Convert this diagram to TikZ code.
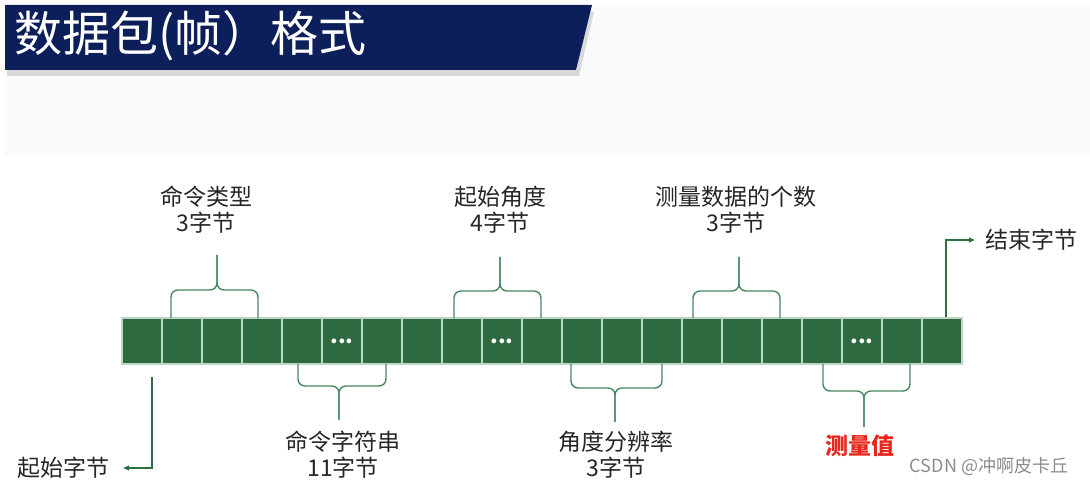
\documentclass[tikz,border=0pt]{standalone}
\usepackage{fontspec}
\setmainfont{Noto Sans CJK SC}
\usepackage{tikz}
\usetikzlibrary{arrows.meta,positioning,calc}
\definecolor{titlenavy}{RGB}{12,31,91}
\definecolor{cellgreen}{RGB}{46,106,64}
\definecolor{celledge}{RGB}{190,214,196}
\definecolor{bracegreen}{RGB}{72,136,96}
\definecolor{arrowgreen}{RGB}{46,112,66}
\definecolor{labelgrey}{RGB}{38,38,38}
\definecolor{measred}{RGB}{232,40,30}
\definecolor{panelgrey}{RGB}{249,250,252}

\begin{document}
\begin{tikzpicture}[
  x=1pt, y=1pt,
  lbl/.style={font=\fontsize{23}{26}\selectfont, text=labelgrey, align=center, inner sep=0pt},
  cell/.style={draw=celledge, line width=1.1pt, fill=cellgreen, minimum width=40pt, minimum height=46pt, inner sep=0pt},
  dots/.style={text=white, font=\fontsize{22}{22}\selectfont\bfseries, inner sep=0pt},
  brc/.style={draw=bracegreen, line width=1.4pt, rounded corners=7pt},
  ar/.style={-{Triangle[length=6pt,width=5pt]}, draw=arrowgreen, line width=1.4pt}
]
\useasboundingbox (0,0) rectangle (1090,486);
% title banner
\fill[panelgrey] (5,331) rectangle (1090,481);
\fill[black!30, opacity=.45] (7,410) -- (579,410) -- (594,474) -- (7,474) -- cycle;
\fill[titlenavy] (5,481) -- (592,481) -- (576,416) -- (5,416) -- cycle;
\node[font=\fontsize{48}{48}\selectfont, text=white, anchor=west, inner sep=0pt] (title) at (14,450) {数据包(帧）格式};
% frame bytes
\foreach \i in {0,...,20}
  \node[cell] (c\i) at (142+40*\i, 145) {};
\foreach \i in {5,9,18}
  \node[dots] (d\i) at (c\i) {...};
% labels
\node[lbl] (typelbl) at (206,276) {命令类型\\3字节};
\node[lbl] (anglelbl) at (500,276) {起始角度\\4字节};
\node[lbl] (countlbl) at (736,276) {测量数据的个数\\3字节};
\node[lbl] (endlbl) at (1031,246) {结束字节};
\node[lbl] (startlbl) at (63,18) {起始字节};
\node[lbl] (cmdlbl) at (343,31) {命令字符串\\11字节};
\node[lbl] (reslbl) at (616,31) {角度分辨率\\3字节};
\node[lbl, text=measred, font=\fontsize{23}{26}\selectfont\bfseries] (measlbl) at (860,40) {测量值};
\node[font=\fontsize{18}{18}\selectfont, text=black!45, inner sep=0pt] (mark) at (989,20) {CSDN @冲啊皮卡丘};
% braces above
\draw[brc] (171,168) -- (171,196) -- (217,196) -- (217,231);
\draw[brc] (258,168) -- (258,196) -- (217,196) -- (217,231);
\draw[brc] (454,168) -- (454,195) -- (500,195) -- (500,229);
\draw[brc] (541,168) -- (541,195) -- (500,195) -- (500,229);
\draw[brc] (693,168) -- (693,195) -- (739,195) -- (739,229);
\draw[brc] (780,168) -- (780,195) -- (739,195) -- (739,229);
% braces below
\draw[brc] (298,122) -- (298,100) -- (339,100) -- (339,66);
\draw[brc] (386,122) -- (386,100) -- (339,100) -- (339,66);
\draw[brc] (571,122) -- (571,98) -- (615,98) -- (615,64);
\draw[brc] (662,122) -- (662,98) -- (615,98) -- (615,64);
\draw[brc] (823,122) -- (823,95) -- (864,95) -- (864,59);
\draw[brc] (910,122) -- (910,95) -- (864,95) -- (864,59);
% start / end arrows
\coordinate (s0) at (152,109);
\draw[ar, shorten >=14pt] (s0) |- (startlbl);
\draw[ar, shorten >=10pt] ([xshift=4pt]c20.north) |- (endlbl);
\end{tikzpicture}
\end{document}
